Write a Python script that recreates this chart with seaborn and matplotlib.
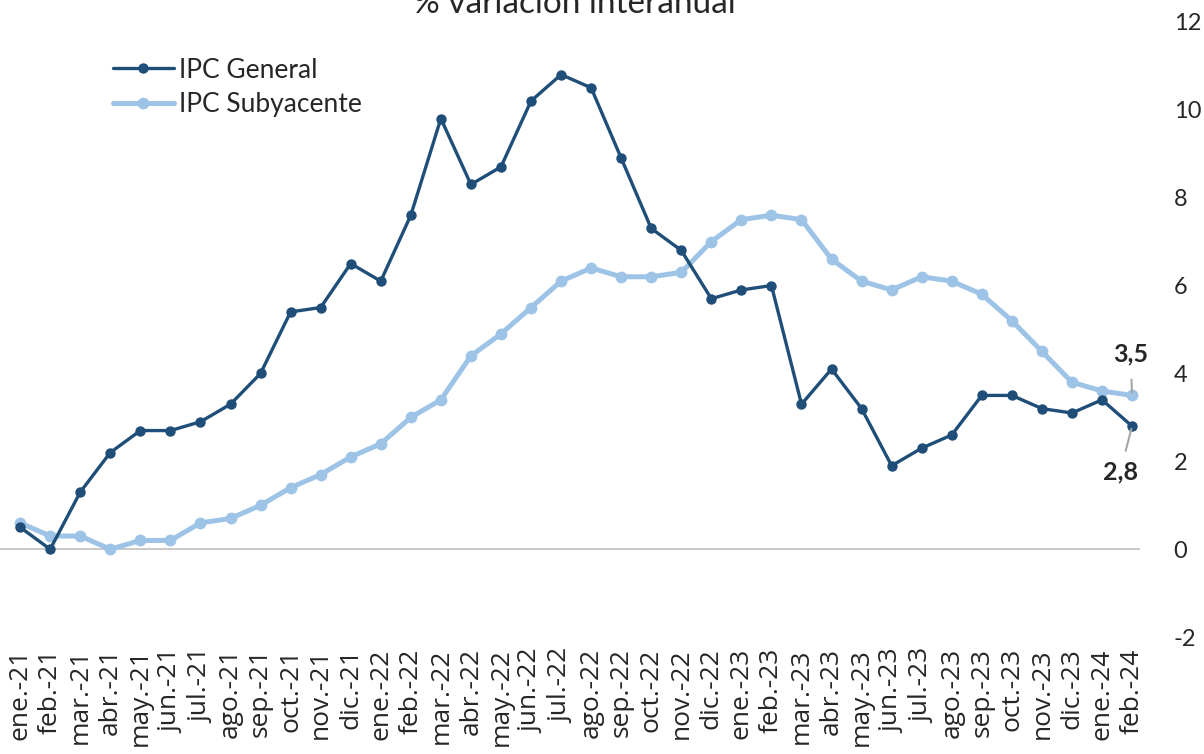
import pandas as pd
import matplotlib
matplotlib.use('Agg')
import matplotlib.pyplot as plt
from matplotlib import font_manager
import seaborn as sns

# Data
months = ['ene.-21', 'feb.-21', 'mar.-21', 'abr.-21', 'may.-21', 'jun.-21', 'jul.-21', 'ago.-21',
          'sep.-21', 'oct.-21', 'nov.-21', 'dic.-21', 'ene.-22', 'feb.-22', 'mar.-22', 'abr.-22',
          'may.-22', 'jun.-22', 'jul.-22', 'ago.-22', 'sep.-22', 'oct.-22', 'nov.-22', 'dic.-22',
          'ene.-23', 'feb.-23', 'mar.-23', 'abr.-23', 'may.-23', 'jun.-23', 'jul.-23', 'ago.-23',
          'sep.-23', 'oct.-23', 'nov.-23', 'dic.-23', 'ene.-24', 'feb.-24']
ipc_general = [0.5, 0.0, 1.3, 2.2, 2.7, 2.7, 2.9, 3.3, 4.0, 5.4, 5.5, 6.5, 6.1, 7.6, 9.8, 8.3,
               8.7, 10.2, 10.8, 10.5, 8.9, 7.3, 6.8, 5.7, 5.9, 6.0, 3.3, 4.1, 3.2, 1.9, 2.3, 2.6,
               3.5, 3.5, 3.2, 3.1, 3.4, 2.8]
ipc_subyacente = [0.6, 0.3, 0.3, 0.0, 0.2, 0.2, 0.6, 0.7, 1.0, 1.4, 1.7, 2.1, 2.4, 3.0, 3.4, 4.4,
                  4.9, 5.5, 6.1, 6.4, 6.2, 6.2, 6.3, 7.0, 7.5, 7.6, 7.5, 6.6, 6.1, 5.9, 6.2, 6.1,
                  5.8, 5.2, 4.5, 3.8, 3.6, 3.5]

df = pd.DataFrame({'pos': range(len(months)), 'mes': months,
                   'IPC General': ipc_general, 'IPC Subyacente': ipc_subyacente})

sns.set_style('white')
plt.rcParams['font.family'] = ['Lato', 'DejaVu Sans']
plt.rcParams['axes.unicode_minus'] = False

fig = plt.figure(figsize=(12.04, 7.54), dpi=100)
ax = fig.add_axes([0.0, 0.155, 0.947, 0.816])

dark = '#1F4E79'
light = '#9DC3E6'

ax.axhline(0, color='#BFBFBF', lw=1.2, zorder=0)
sns.lineplot(data=df, x='pos', y='IPC General', color=dark, lw=2.4, marker='o',
             markersize=7.5, markeredgewidth=0, label='IPC General', ax=ax, zorder=3)
sns.lineplot(data=df, x='pos', y='IPC Subyacente', color=light, lw=3.6, marker='o',
             markersize=8.5, markeredgewidth=0, label='IPC Subyacente', ax=ax, zorder=2)

ax.set_xlim(-0.67, 37.27)
ax.set_ylim(-2, 12)
ax.set_xticks(df['pos'])
xfont = font_manager.FontProperties(family=['Open Sans', 'DejaVu Sans'], size=19)
ax.set_xticklabels(months, rotation=90, fontproperties=xfont)
ax.yaxis.tick_right()
ax.set_yticks(range(-2, 13, 2))
ax.tick_params(axis='y', labelsize=17, pad=24, length=0)
ax.tick_params(axis='x', length=0, pad=8)
ax.set_xlabel('')
ax.set_ylabel('')
sns.despine(ax=ax, left=True, right=True, top=True, bottom=True)

# Annotations for last values
last = len(months) - 1
ax.annotate('3,5', xy=(last, ipc_subyacente[-1]), xytext=(last - 0.05, 4.45),
            ha='center', va='center', fontsize=18, fontweight='bold',
            arrowprops=dict(arrowstyle='-', color='#A6A6A6', lw=1.5, shrinkA=8, shrinkB=2))
ax.annotate('2,8', xy=(last, ipc_general[-1]), xytext=(last - 0.4, 1.75),
            ha='center', va='center', fontsize=18, fontweight='bold',
            arrowprops=dict(arrowstyle='-', color='#A6A6A6', lw=1.5, shrinkA=5, shrinkB=2))

ax.legend(loc='upper left', bbox_to_anchor=(0.074, 0.955), bbox_transform=fig.transFigure,
          frameon=False, fontsize=19, handlelength=2.3, handletextpad=0.2, labelspacing=0.35)

fig.text(0.477, 0.995, '% variación interanual', ha='center', va='center', fontsize=24)

fig.savefig('out.png', dpi=100)
